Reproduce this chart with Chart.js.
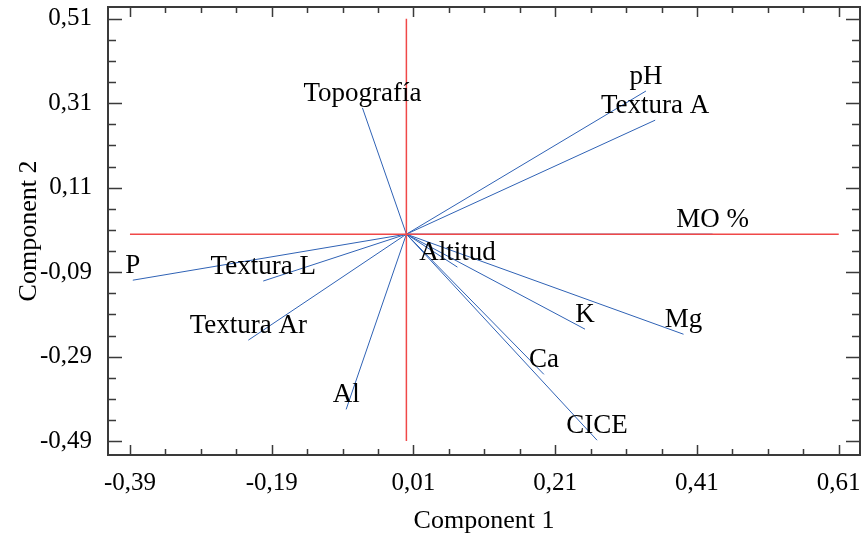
<!DOCTYPE html>
<html lang="es">
<head>
<meta charset="UTF-8">
<title>Component 1 vs Component 2</title>
<script src="https://cdn.jsdelivr.net/npm/chart.js"></script>
<style>
  html, body { margin: 0; padding: 0; background: #fff; }
  #wrap { width: 866px; height: 539px; }
</style>
</head>
<body>
<div id="wrap"><canvas id="biplot"></canvas></div>
<script>
// loadings
const variables = ['Topografía', 'pH', 'Textura A', 'MO %', 'Altitud', 'K', 'Mg', 'Ca', 'CICE', 'Al', 'Textura Ar', 'Textura L', 'P'];
const comp1 = [-0.062, 0.338, 0.351, 0.432, 0.072, 0.252, 0.391, 0.194, 0.269, -0.085, -0.223, -0.202, -0.386];
const comp2 = [0.299, 0.339, 0.270, 0.0, -0.078, -0.225, -0.237, -0.332, -0.488, -0.415, -0.251, -0.111, -0.109];

const xTicks = [-0.39, -0.19, 0.01, 0.21, 0.41, 0.61];
const yTicks = [-0.49, -0.29, -0.09, 0.11, 0.31, 0.51];

const serif = "'Liberation Serif', 'Times New Roman', serif";
const fmt = v => v.toFixed(2).replace('.', ',');

// red reference axes through the origin
const datasets = [
  { data: [{ x: xTicks[0], y: 0 }, { x: xTicks[xTicks.length - 1], y: 0 }], borderColor: '#f04848', borderWidth: 1.5, order: 0 },
  { data: [{ x: 0, y: yTicks[0] }, { x: 0, y: yTicks[yTicks.length - 1] }], borderColor: '#f04848', borderWidth: 1.5, order: 0 }
];
variables.forEach((v, i) => {
  datasets.push({
    label: v,
    data: [{ x: 0, y: 0 }, { x: comp1[i], y: comp2[i] }],
    borderColor: '#2f62b5',
    borderWidth: 1,
    order: 1
  });
});

// frame, inward tick marks and variable names
const decor = {
  id: 'decor',
  afterDatasetsDraw(chart) {
    const { ctx, chartArea: a, scales: { x, y } } = chart;
    ctx.save();
    ctx.strokeStyle = '#3a3a3a';
    ctx.lineWidth = 1.5;
    ctx.beginPath();
    for (let k = 0; k <= 20; k++) {
      const xv = xTicks[0] + k * 0.05;
      const px = Math.round(x.getPixelForValue(xv)) + 0.5;
      const len = k % 4 === 0 ? 10 : 6;
      ctx.moveTo(px, a.bottom); ctx.lineTo(px, a.bottom - len);
      ctx.moveTo(px, a.top); ctx.lineTo(px, a.top + len);
      const yv = yTicks[0] + k * 0.05;
      const py = Math.round(y.getPixelForValue(yv)) + 0.5;
      const ylen = k % 4 === 0 ? 14 : 8;
      ctx.moveTo(a.left, py); ctx.lineTo(a.left + ylen, py);
      ctx.moveTo(a.right, py); ctx.lineTo(a.right - ylen, py);
    }
    ctx.stroke();
    ctx.lineWidth = 2;
    ctx.strokeRect(a.left, a.top, a.right - a.left, a.bottom - a.top);

    ctx.fillStyle = '#000';
    ctx.font = '27px ' + serif;
    ctx.textAlign = 'center';
    ctx.textBaseline = 'alphabetic';
    variables.forEach((v, i) => {
      ctx.fillText(v, x.getPixelForValue(comp1[i]), y.getPixelForValue(comp2[i]) - 7);
    });
    ctx.restore();
  }
};

new Chart(document.getElementById('biplot'), {
  type: 'scatter',
  data: { datasets },
  options: {
    responsive: true,
    maintainAspectRatio: false,
    animation: false,
    showLine: true,
    elements: { point: { radius: 0 } },
    layout: { padding: { top: 7, right: 6, left: 0, bottom: 0 } },
    plugins: { legend: { display: false }, tooltip: { enabled: false } },
    scales: {
      x: {
        type: 'linear',
        min: -0.421,
        max: 0.64,
        grid: { display: false, drawTicks: false },
        border: { display: false },
        afterBuildTicks: s => { s.ticks = xTicks.map(v => ({ value: v })); },
        afterFit: s => { s.height = 84; s.paddingLeft = 0; s.paddingRight = 0; },
        ticks: { color: '#000', padding: 13, font: { family: serif, size: 25 }, callback: fmt, maxRotation: 0 },
        title: { display: true, text: 'Component 1', color: '#000', font: { family: serif, size: 26 }, padding: { top: 0, bottom: 2 } }
      },
      y: {
        type: 'linear',
        min: -0.523,
        max: 0.538,
        grid: { display: false, drawTicks: false },
        border: { display: false },
        afterBuildTicks: s => { s.ticks = yTicks.map(v => ({ value: v })); },
        afterFit: s => { s.width = 108; s.paddingTop = 0; s.paddingBottom = 0; },
        ticks: { color: '#000', padding: 16, font: { family: serif, size: 25 }, callback: fmt },
        title: { display: true, text: 'Component 2', color: '#000', font: { family: serif, size: 26 }, padding: { top: 14, bottom: 0 } }
      }
    }
  },
  plugins: [decor]
});
</script>
</body>
</html>
